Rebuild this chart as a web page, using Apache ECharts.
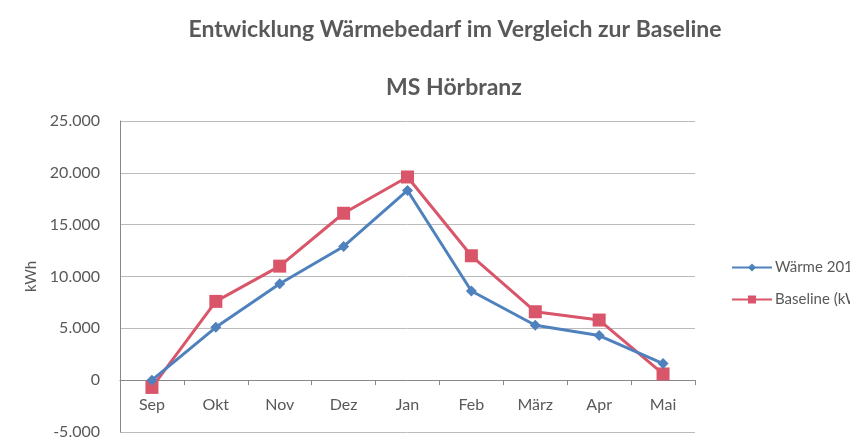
<!DOCTYPE html>
<html>
<head>
<meta charset="utf-8">
<script src="https://cdn.jsdelivr.net/npm/echarts@6/dist/echarts.min.js"></script>
<style>
  html, body { margin: 0; padding: 0; background: #fff; }
  #chart { width: 850px; height: 441px; }
</style>
</head>
<body>
<div id="chart"></div>
<script>
var months = ['Sep', 'Okt', 'Nov', 'Dez', 'Jan', 'Feb', 'März', 'Apr', 'Mai'];
var waerme = [0, 5100, 9300, 12900, 18300, 8600, 5300, 4300, 1600];
var baseline = [-700, 7600, 11000, 16100, 19600, 12000, 6600, 5800, 600];
var seriesNames = ['Wärme 2013/14', 'Baseline (kWh)'];

(function() {
    var myChart = echarts.init(document.getElementById('chart'));
    var grey = '#595959';
    var yMin = -5000, yMax = 25000;
    var gridTop = 121, gridBottom = 9;
    // move the category axis up to the zero line
    var plotH = 441 - gridTop - gridBottom;
    var zeroOffset = -(0 - yMin) / (yMax - yMin) * plotH;

    var option = {
        backgroundColor: '#fff',
        animation: false,
        textStyle: { fontFamily: 'Lato' },
        title: [{
            text: 'Entwicklung Wärmebedarf im Vergleich zur Baseline',
            left: 450, top: 13, textAlign: 'center',
            textStyle: { fontSize: 23, fontWeight: 'bold', color: grey, fontFamily: 'Lato' }
        }, {
            text: 'MS Hörbranz',
            left: 449, top: 71, textAlign: 'center',
            textStyle: { fontSize: 23, fontWeight: 'bold', color: grey, fontFamily: 'Lato' }
        }],
        legend: {
            orient: 'vertical',
            left: 726, top: 255,
            itemGap: 17,
            itemWidth: 40, itemHeight: 10,
            textStyle: { fontSize: 15, color: grey, padding: [0, 0, 0, -2] },
            data: seriesNames
        },
        grid: { left: 120, right: 155, top: gridTop, bottom: gridBottom, outerBoundsMode: 'none' },
        xAxis: {
            type: 'category',
            data: months,
            offset: zeroOffset,
            axisLine: { onZero: false, lineStyle: { color: '#888' } },
            axisTick: { show: true, length: 5, lineStyle: { color: '#888' } },
            axisLabel: { color: grey, fontSize: 16, margin: 17 }
        },
        yAxis: {
            type: 'value',
            min: yMin, max: yMax, interval: 5000,
            name: 'kWh',
            nameLocation: 'middle',
            nameGap: 75,
            nameTextStyle: { color: grey, fontSize: 15 },
            axisLine: { show: true, lineStyle: { color: '#888' } },
            axisTick: { show: false },
            splitLine: { lineStyle: { color: '#bbb' } },
            axisLabel: {
                color: grey, fontSize: 16, margin: 20,
                formatter: function(v) {
                    return v === 0 ? '0' : v.toLocaleString('de-DE');
                }
            }
        },
        series: [{
            name: seriesNames[0],
            type: 'line',
            data: waerme,
            symbol: 'diamond',
            symbolSize: 11,
            lineStyle: { width: 3, color: '#4F81BD' },
            itemStyle: { color: '#4F81BD' },
            z: 3
        }, {
            name: seriesNames[1],
            type: 'line',
            data: baseline,
            symbol: 'rect',
            symbolSize: 13,
            lineStyle: { width: 3, color: '#D9566A' },
            itemStyle: { color: '#D9566A' },
            z: 2
        }]
    };

    myChart.setOption(option);
    window.addEventListener('resize', function() {
        myChart.resize();
    });
})();
</script>
</body>
</html>
